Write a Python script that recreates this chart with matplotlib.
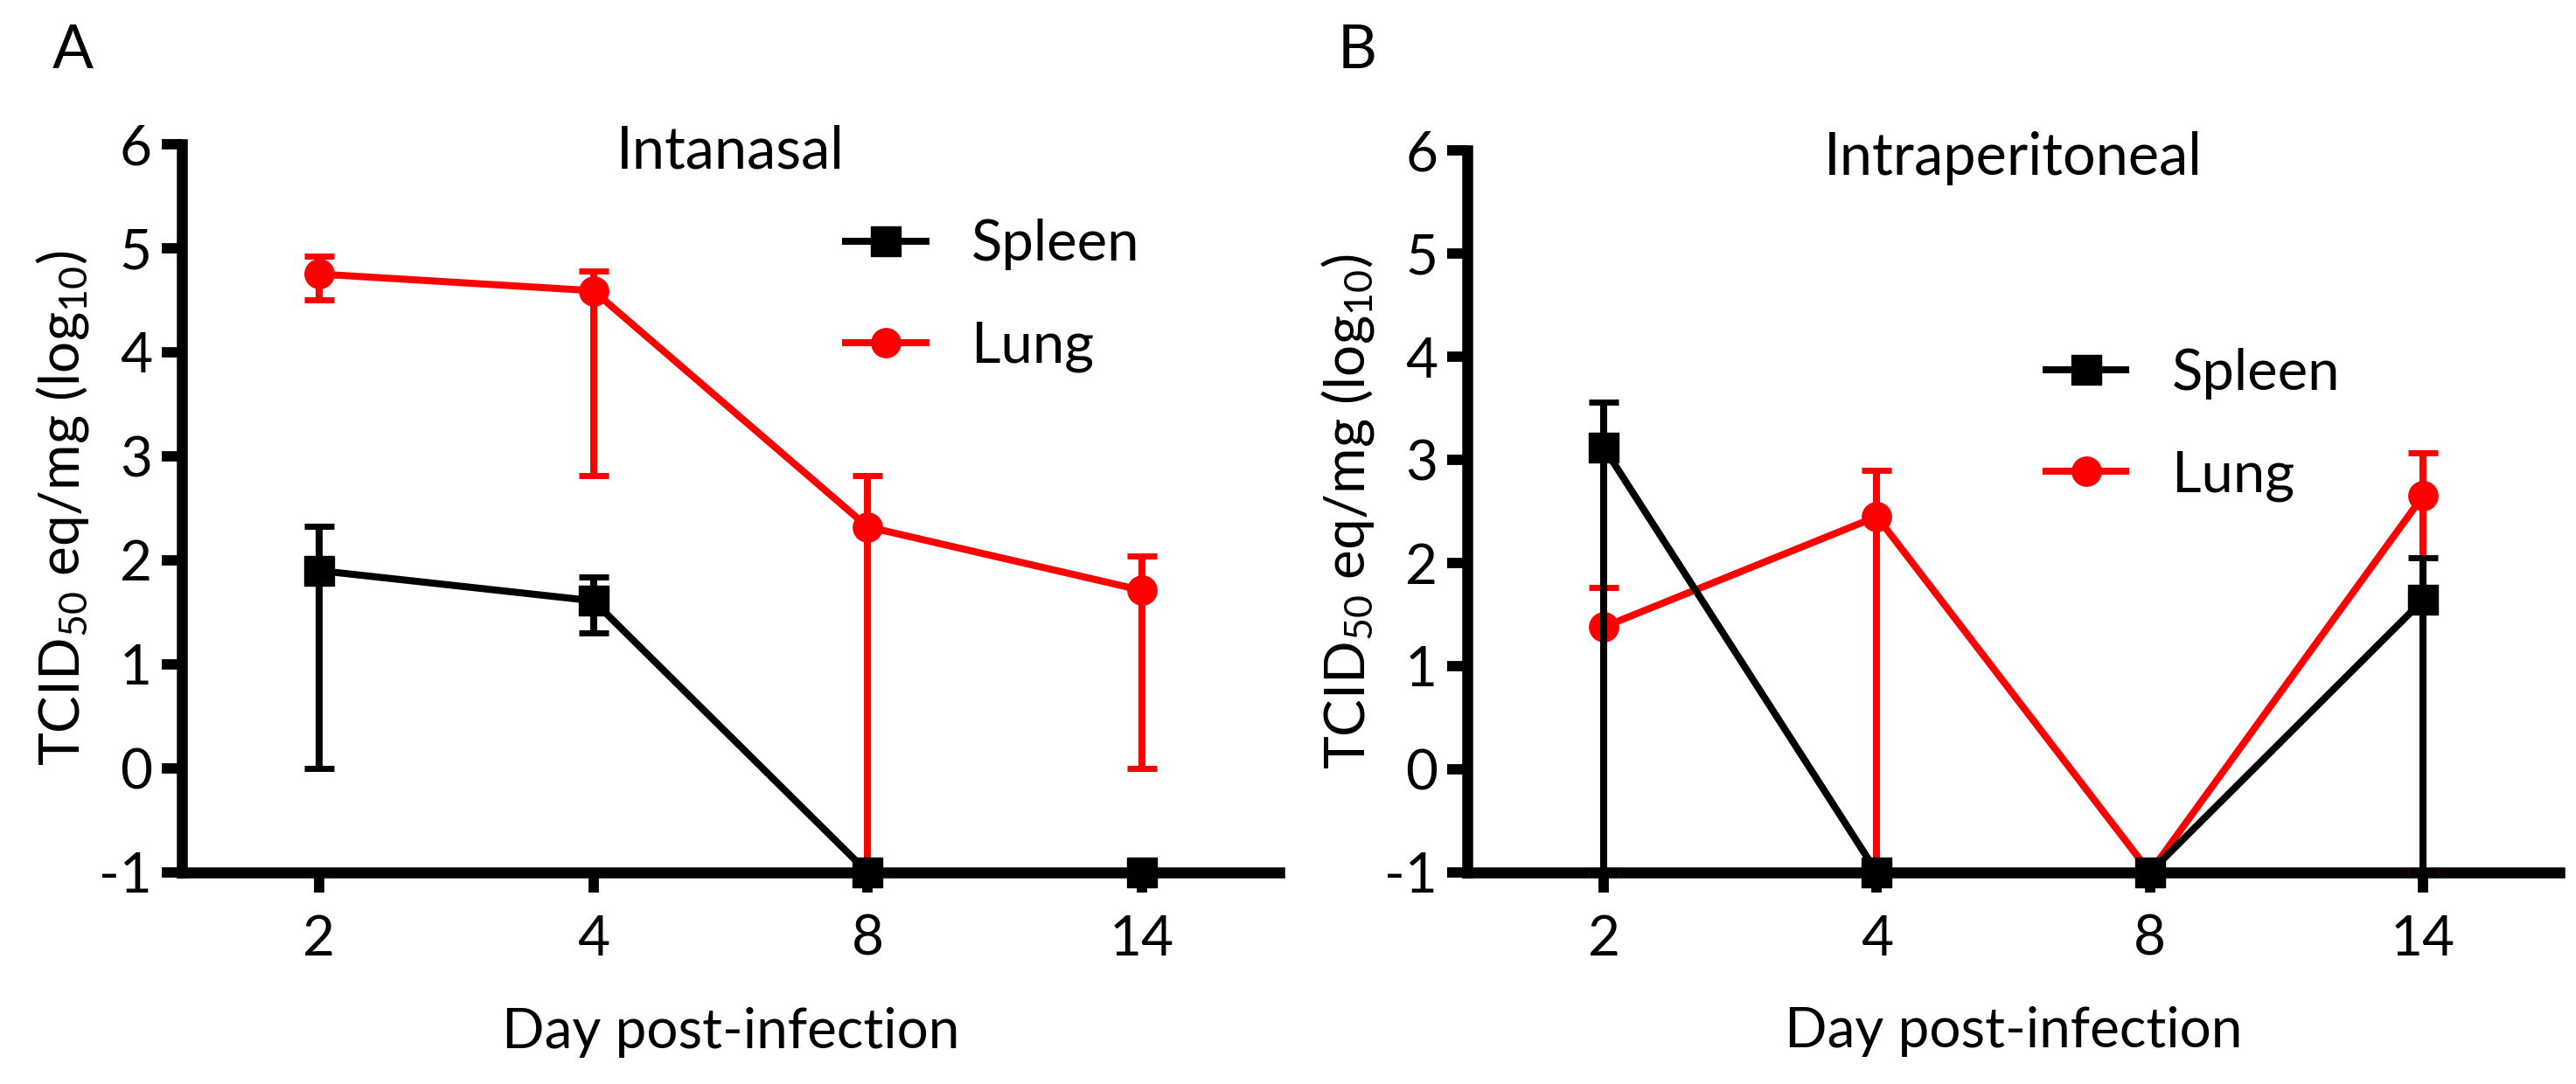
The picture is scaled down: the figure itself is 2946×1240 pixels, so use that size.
import matplotlib
matplotlib.use("Agg")
import matplotlib.pyplot as plt
from matplotlib.lines import Line2D

plt.rcParams['font.family'] = ['Lato', 'DejaVu Sans']
plt.rcParams['mathtext.fontset'] = 'custom'
plt.rcParams['mathtext.rm'] = 'Lato'
plt.rcParams['mathtext.it'] = 'Lato:italic'

days = ['2', '4', '8', '14']

# Panel A (Intranasal)
a_spleen = [1.90, 1.61, -1.0, -1.0]
a_spleen_hi = [2.33, 1.84, -1.0, -1.0]
a_spleen_lo = [0.00, 1.30, -1.0, -1.0]
a_lung = [4.75, 4.59, 2.32, 1.71]
a_lung_hi = [4.92, 4.78, 2.81, 2.04]
a_lung_lo = [4.50, 2.81, -1.0, 0.00]

# Panel B (Intraperitoneal)
b_spleen = [3.12, -1.0, -1.0, 1.64]
b_spleen_hi = [3.56, -1.0, -1.0, 2.05]
b_spleen_lo = [-1.0, -1.0, -1.0, -1.0]
b_lung = [1.38, 2.45, -1.0, 2.65]
b_lung_hi = [1.76, 2.90, -1.0, 3.07]
b_lung_lo = [-1.0, -1.0, -1.0, -1.0]

yticks = [-1, 0, 1, 2, 3, 4, 5, 6]

FS = 46
FS_TITLE = 48
FS_LEG = 47
LW = 5.8

fig = plt.figure(figsize=(29.46, 12.4), dpi=100)
axA = fig.add_axes([0.0706, 0.1952, 0.426, 0.672])
axB = fig.add_axes([0.5696, 0.1952, 0.424, 0.666])


def draw(ax, title, sp, sp_hi, sp_lo, lu, lu_hi, lu_lo, leg_anchor):
    x = list(range(len(days)))
    lu_err = [[m - l for m, l in zip(lu, lu_lo)], [h - m for m, h in zip(lu, lu_hi)]]
    sp_err = [[m - l for m, l in zip(sp, sp_lo)], [h - m for m, h in zip(sp, sp_hi)]]
    e1 = ax.errorbar(x, lu, yerr=lu_err, fmt='-o', color='#ff0000', lw=LW,
                     ms=24, mec='#ff0000', elinewidth=LW, capsize=12, capthick=5,
                     zorder=4, clip_on=False)
    e2 = ax.errorbar(x, sp, yerr=sp_err, fmt='-s', color='black', lw=LW,
                     ms=25, mec='black', elinewidth=LW, capsize=12, capthick=5,
                     zorder=5, clip_on=False)
    for art in list(e1.lines[1]) + list(e1.lines[2]) + list(e2.lines[1]) + list(e2.lines[2]):
        art.set_clip_on(False)
    ax.set_xlim(-0.5, 3.5)
    ax.set_ylim(-1, 6)
    ax.set_xticks(x)
    ax.set_xticklabels(days)
    ax.set_yticks(yticks)
    ax.set_yticklabels([str(t) for t in yticks])
    for s in ['top', 'right']:
        ax.spines[s].set_visible(False)
    for s in ['left', 'bottom']:
        ax.spines[s].set_linewidth(9)
    ax.tick_params(axis='both', width=8.5, length=16.5, labelsize=FS, direction='out')
    ax.tick_params(axis='x', pad=18)
    ax.tick_params(axis='y', pad=8)
    ax.set_xlabel('Day post-infection', fontsize=FS)
    ax.xaxis.set_label_coords(0.5, -0.185)
    ax.set_ylabel(r'TCID$_{\mathrm{50}}$ eq/mg (log$_{\mathrm{10}}$)', fontsize=FS)
    ax.yaxis.set_label_coords(-0.083, 0.5)
    ax.text(0.5, 0.989, title, transform=ax.transAxes, ha='center', va='center',
            fontsize=FS_TITLE)
    handles = [Line2D([], [], color='black', lw=LW, marker='s', ms=25),
               Line2D([], [], color='#ff0000', lw=LW, marker='o', ms=24)]
    ax.legend(handles, ['Spleen', 'Lung'], loc='upper left', bbox_to_anchor=leg_anchor,
              frameon=False, fontsize=FS_LEG, handlelength=1.4, handletextpad=0.8,
              labelspacing=0.88, borderpad=0, borderaxespad=0)


draw(axA, 'Intanasal', a_spleen, a_spleen_hi, a_spleen_lo, a_lung, a_lung_hi, a_lung_lo,
     (0.605, 0.897))
draw(axB, 'Intraperitoneal', b_spleen, b_spleen_hi, b_spleen_lo, b_lung, b_lung_hi, b_lung_lo,
     (0.530, 0.727))

fig.text(83 / 2946, 1 - 58 / 1240, 'A', fontsize=50, ha='center', va='center')
fig.text(1552 / 2946, 1 - 58 / 1240, 'B', fontsize=50, ha='center', va='center')

fig.savefig('out.png', dpi=100)
